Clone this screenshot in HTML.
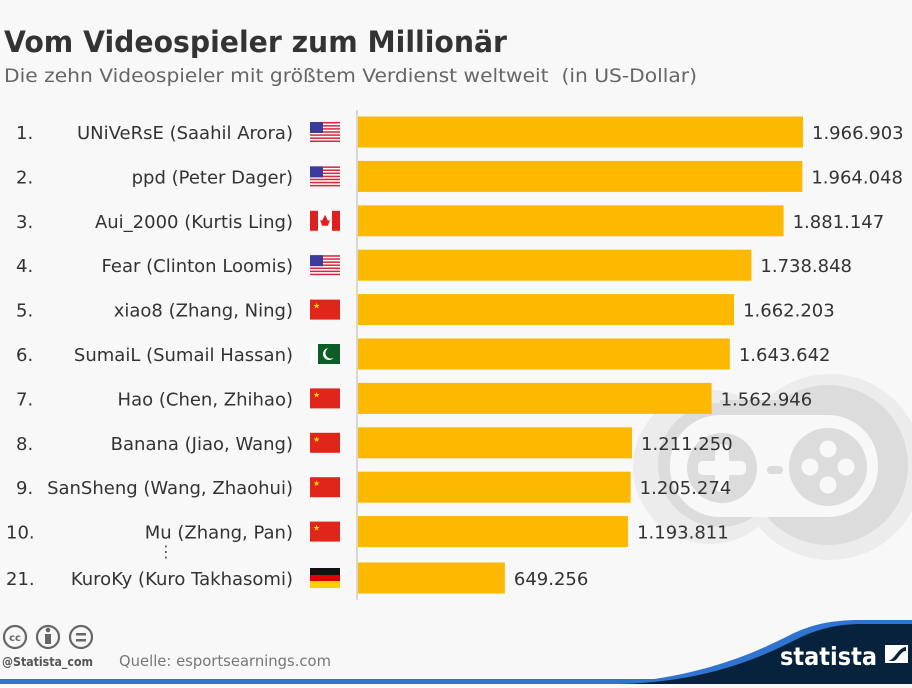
<!DOCTYPE html>
<html><head><meta charset="utf-8">
<style>
body{margin:0;width:912px;height:684px;overflow:hidden;background:#f8f8f8;font-family:"DejaVu Sans","Liberation Sans",sans-serif;}
svg text{font-family:"DejaVu Sans","Liberation Sans",sans-serif;}
</style></head>
<body>
<svg id="chart" width="912" height="684" viewBox="0 0 912 684">
<rect width="912" height="684" fill="#f8f8f8"/>
<text x="4" y="52" font-size="29" font-weight="bold" fill="#333" textLength="503" lengthAdjust="spacingAndGlyphs">Vom Videospieler zum Millionär</text>
<text x="4" y="82" font-size="19" fill="#666" textLength="693" lengthAdjust="spacingAndGlyphs" xml:space="preserve">Die zehn Videospieler mit größtem Verdienst weltweit  (in US-Dollar)</text>
<g>
<circle cx="710" cy="467" r="77" fill="#ececec"/>
<circle cx="830" cy="467" r="93" fill="#ececec"/>
<circle cx="720" cy="465" r="62" fill="#dcdcdc"/>
<circle cx="828" cy="465" r="80" fill="#dcdcdc"/>
<rect x="720" y="400" width="108" height="110" fill="#dcdcdc"/>
<rect x="670" y="415" width="208" height="102" rx="50" fill="#f8f8f8"/>
<circle cx="722" cy="468" r="35" fill="#dcdcdc"/>
<rect x="698" y="461" width="48" height="14" rx="5" fill="#f8f8f8"/>
<rect x="715" y="444" width="14" height="48" rx="5" fill="#f8f8f8"/>
<rect x="767" y="466" width="16" height="8" rx="4" fill="#dcdcdc"/>
<circle cx="828" cy="467" r="39" fill="#dcdcdc"/>
<circle cx="828" cy="449" r="8.5" fill="#f8f8f8"/>
<circle cx="828" cy="485" r="8.5" fill="#f8f8f8"/>
<circle cx="810" cy="467" r="8.5" fill="#f8f8f8"/>
<circle cx="846" cy="467" r="8.5" fill="#f8f8f8"/>
</g>
<g id="bars"></g>
<line x1="357" y1="110" x2="357" y2="600" stroke="#ccc" stroke-width="1.5"/>
<text x="166" y="557" font-size="16" fill="#555" text-anchor="middle">⋮</text>
<g fill="none" stroke="#666" stroke-width="2.2">
<circle cx="15" cy="637" r="11"/><circle cx="48" cy="637" r="11"/><circle cx="81" cy="637" r="11"/>
</g>
<text x="15" y="641" font-size="10" font-weight="bold" fill="#666" text-anchor="middle">cc</text>
<rect x="45" y="634" width="6" height="10" fill="#666"/><circle cx="48" cy="630" r="2.3" fill="#666"/>
<rect x="76" y="633" width="10" height="2.5" fill="#666"/><rect x="76" y="639" width="10" height="2.5" fill="#666"/>
<text x="2" y="666" font-size="12" font-weight="bold" fill="#555" textLength="91" lengthAdjust="spacingAndGlyphs">@Statista_com</text>
<text x="119" y="666" font-size="15" fill="#777" textLength="212" lengthAdjust="spacingAndGlyphs">Quelle: esportsearnings.com</text>
<rect x="0" y="679" width="912" height="5" fill="#2f74d0"/>
<path d="M600,684 C700,680 760,650 790,635 C810,625 830,620 860,620 L912,620 L912,684Z" fill="#2f74d0"/>
<path d="M620,684 C710,682 765,655 795,640 C815,630 835,624 862,624 L912,624 L912,684Z" fill="#06223d"/>
<text x="780" y="665" font-size="25" font-weight="bold" fill="#fff" textLength="97" lengthAdjust="spacingAndGlyphs">statista</text>
<path d="M885,645 L908,645 L908,663 L885,663Z" fill="#fff"/>
<path d="M887,661 C895,661 897,648 906,647 L906,651 C900,651 898,661 893,661Z" fill="#06223d"/>
</svg>
<script>
const ranks=["1.","2.","3.","4.","5.","6.","7.","8.","9.","10.","21."];
const players=["UNiVeRsE (Saahil Arora)","ppd (Peter Dager)","Aui_2000 (Kurtis Ling)","Fear (Clinton Loomis)","xiao8 (Zhang, Ning)","SumaiL (Sumail Hassan)","Hao (Chen, Zhihao)","Banana (Jiao, Wang)","SanSheng (Wang, Zhaohui)","Mu (Zhang, Pan)","KuroKy (Kuro Takhasomi)"];
const earnings=[1966903,1964048,1881147,1738848,1662203,1643642,1562946,1211250,1205274,1193811,649256];
const countries=["us","us","ca","us","cn","pk","cn","cn","cn","cn","de"];
const NS="http://www.w3.org/2000/svg";
const g=document.getElementById('bars');
function xScale(v){return 358+v*445/1966903;}
function yCenter(i){return i<10?132+i*44.4:578;}
function el(t,a,p){const e=document.createElementNS(NS,t);for(const k in a)e.setAttribute(k,a[k]);(p||g).appendChild(e);return e;}
function flag(c,x,y,i){
  const f=el('g',{});
  
  
  const w=30,h=20;
  if(c==='us'){el('rect',{x:x,y:y,width:w,height:h,fill:'#fff'},f);for(let k=0;k<7;k++)el('rect',{x:x,y:y+k*h/6.5,width:w,height:h/13,fill:'#d8283c'},f);el('rect',{x:x,y:y,width:13,height:11,fill:'#3c3b9b'},f);}
  else if(c==='ca'){el('rect',{x:x,y:y,width:w,height:h,fill:'#fff'},f);el('rect',{x:x,y:y,width:8,height:h,fill:'#e02020'},f);el('rect',{x:x+22,y:y,width:8,height:h,fill:'#e02020'},f);el('path',{d:`M${x+15} ${y+4} L${x+18} ${y+10} L${x+20} ${y+9} L${x+18} ${y+15} L${x+12} ${y+15} L${x+10} ${y+9} L${x+12} ${y+10}Z`,fill:'#e02020'},f);}
  else if(c==='cn'){el('rect',{x:x,y:y,width:w,height:h,fill:'#e0251b'},f);el('text',{x:x+3,y:y+9,'font-size':8,fill:'#ffde00'},f).textContent='★';}
  else if(c==='pk'){el('rect',{x:x,y:y,width:w,height:h,fill:'#0d5e26'},f);el('rect',{x:x,y:y,width:8,height:h,fill:'#fff'},f);el('circle',{cx:x+19,cy:y+10,r:6,fill:'#fff'},f);el('circle',{cx:x+21,cy:y+9,r:5.5,fill:'#0d5e26'},f);}
  else if(c==='de'){el('rect',{x:x,y:y,width:w,height:7,fill:'#111'},f);el('rect',{x:x,y:y+7,width:w,height:6,fill:'#dd0000'},f);el('rect',{x:x,y:y+13,width:w,height:7,fill:'#ffce00'},f);}
}
earnings.forEach((v,i)=>{
  const cy=yCenter(i);
  const r=el('rect',{x:358,y:cy-15.5,width:xScale(v)-358,height:31,fill:'#fdb900'});
  
  
  const vt=el('text',{x:xScale(v)+9,y:cy+7,'font-size':18,fill:'#333'});
  vt.textContent=v.toLocaleString('de-DE');
  
  
  const rk=el('text',{x:i<9?16:6,y:cy+7,'font-size':18,fill:'#333'});
  rk.textContent=ranks[i];
  
  
  const nm=el('text',{x:293,y:cy+7,'font-size':18,fill:'#333','text-anchor':'end'});
  nm.textContent=players[i];
  
  
  flag(countries[i],310,cy-10,i);
});
</script>
</body></html>
